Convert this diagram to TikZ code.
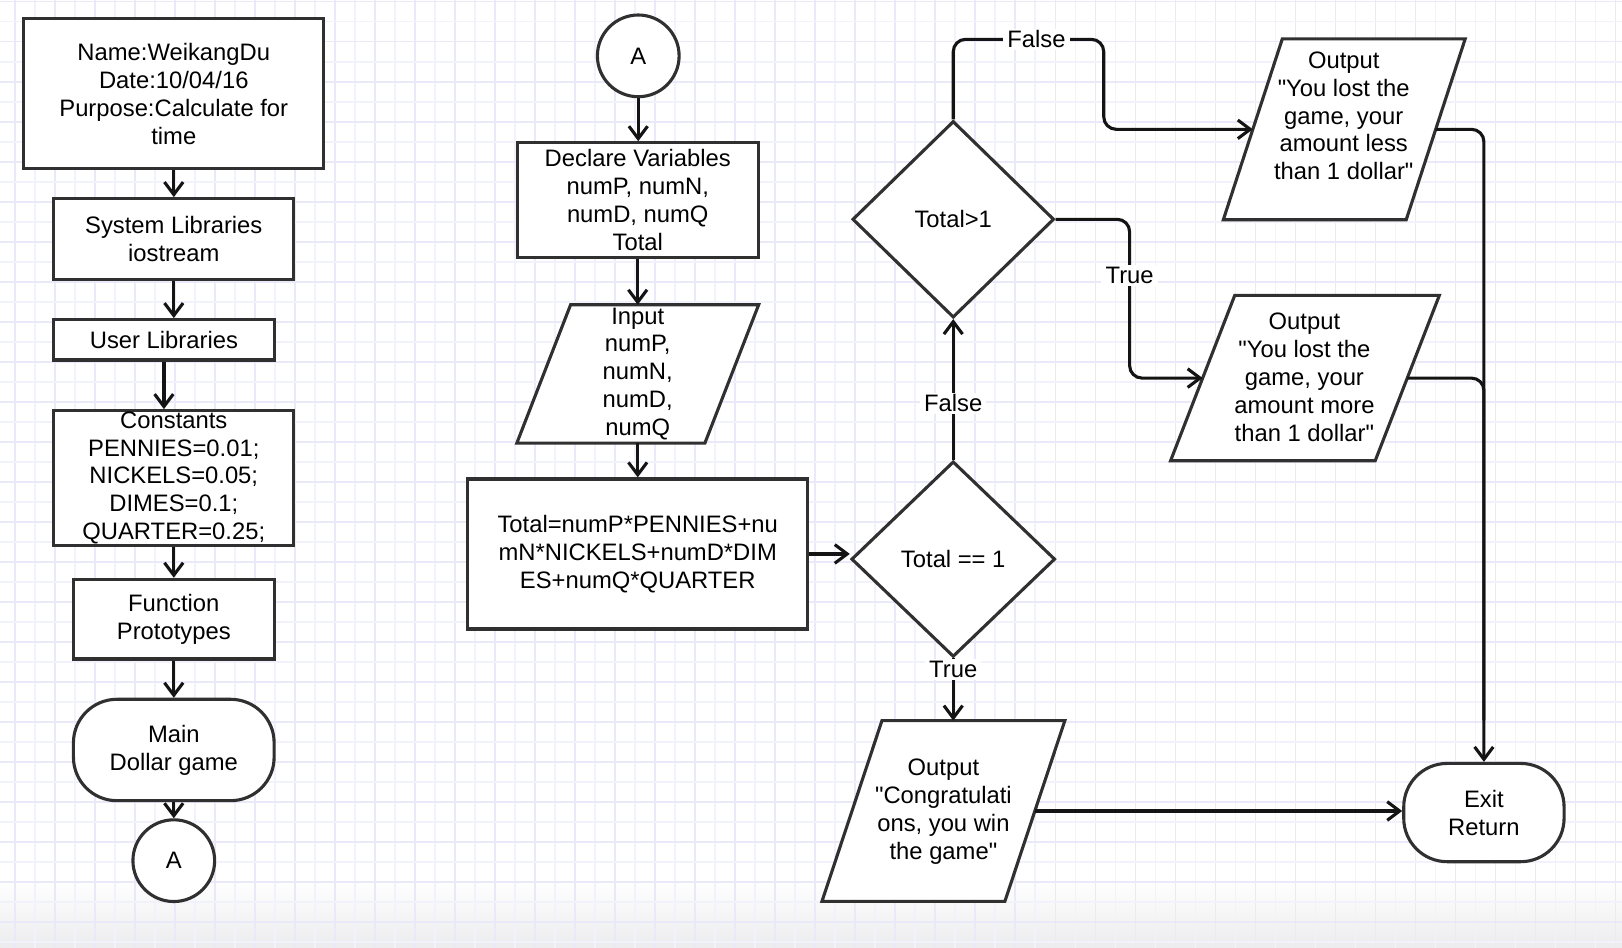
\documentclass[tikz,border=0pt]{standalone}
\usepackage{fontspec}
\setmainfont{Liberation Sans}[Ligatures=TeXOff]
\usetikzlibrary{shapes.geometric,arrows.meta,calc}
\definecolor{gridminor}{RGB}{242,242,252}
\definecolor{gridmajor}{RGB}{233,233,250}
\definecolor{shp}{RGB}{48,48,48}
\definecolor{conncol}{RGB}{20,20,20}
\newcommand\drawpara[2]{\path[draw=shp, fill=white, line width=1.5pt, line join=miter] ([xshift=#2]#1.north west) -- (#1.north east) -- ([xshift=-#2]#1.south east) -- (#1.south west) -- cycle;}
\tikzset{
  txt/.style={font=\fontsize{11.5}{13.5}\selectfont, align=center, inner sep=0pt, text=black},
  mtxt/.style={txt, execute at begin node={\rule{0pt}{12pt}}},
  box/.style={mtxt, rectangle, draw=shp, fill=white, line width=1.5pt},
  sbox/.style={txt, rectangle, draw=shp, fill=white, line width=1.5pt},
  term/.style={box, rounded corners=21pt},
  dec/.style={txt, diamond, draw=shp, fill=white, line width=1.5pt},
  conncirc/.style={txt, circle, draw=shp, fill=white, line width=1.5pt, minimum size=39.5pt},
  pshape/.style={rectangle, inner sep=0pt, draw=none},
  conn/.style={draw=conncol, line width=1.5pt, rounded corners=6pt, -{Straight Barb[length=6pt,width=9pt]}},
  plainline/.style={draw=conncol, line width=1.5pt, rounded corners=6pt},
  lbl/.style={txt, fill=white, inner xsep=2pt, inner ysep=1pt},
}
\begin{document}
\begin{tikzpicture}[x=0.5pt,y=-0.5pt]
\useasboundingbox (0,0) rectangle (1568,916);
\fill[white] (0,0) rectangle (1568,916);
\shade[top color=white, bottom color={rgb,255:red,236;green,236;blue,238}] (0,850) rectangle (1568,916);
% grid
\foreach \i in {0,...,80}{
  \pgfmathtruncatemacro\odd{mod(\i,2)}
  \ifnum\odd=0 \def\gc{gridmajor}\else\def\gc{gridminor}\fi
  \draw[\gc, line width=0.8pt] ({14.5+\i*19.34},0) -- ({14.5+\i*19.34},916);
}
\foreach \j in {0,...,47}{
  \pgfmathtruncatemacro\odd{mod(\j,2)}
  \ifnum\odd=0 \def\gc{gridmajor}\else\def\gc{gridminor}\fi
  \draw[\gc, line width=0.8pt] (0,{1.6+\j*19.34}) -- (1568,{1.6+\j*19.34});
}

% left column
\node[box, minimum width=145pt, minimum height=72.5pt] (name) at (168,90.5) {Name:WeikangDu\\Date:10/04/16\\Purpose:Calculate for\\time};
\node[box, minimum width=116pt, minimum height=39pt] (syslib) at (168,231) {System Libraries\\iostream};
\node[sbox, minimum width=106.5pt, minimum height=19.5pt] (userlib) at (158.5,328.5) {User Libraries};
\node[box, minimum width=116pt, minimum height=65pt] (const) at (168,462) {Constants\\PENNIES=0.01;\\NICKELS=0.05;\\DIMES=0.1;\\QUARTER=0.25;};
\node[box, minimum width=97pt, minimum height=38.5pt] (fp) at (168,598.5) {Function\\Prototypes};
\node[term, minimum width=97pt, minimum height=49pt] (main) at (168,725) {Main\\Dollar game};
\node[conncirc] (a1) at (168,832) {A};

% middle column
\node[conncirc] (a2) at (617,54) {A};
\node[box, minimum width=116.5pt, minimum height=55.5pt] (decl) at (616.5,193.5) {Declare Variables\\numP, numN,\\numD, numQ\\Total};
\node[pshape, minimum width=116.5pt, minimum height=66.5pt] (input) at (616.5,361.5) {};
\drawpara{input}{26pt}
\node[mtxt] (inputt) at (input.center) {Input\\numP,\\numN,\\numD,\\numQ};
\node[box, minimum width=164.5pt, minimum height=72.5pt] (calc) at (616.5,535.5) {Total=numP*PENNIES+nu\\mN*NICKELS+numD*DIM\\ES+numQ*QUARTER};

% decisions
\node[dec, minimum width=98.5pt, minimum height=94.5pt] (d1) at (921.5,540.5) {Total == 1};
\node[dec, minimum width=97.5pt, minimum height=95pt] (d2) at (921.5,212) {Total>1};

% outputs
\node[pshape, minimum width=117pt, minimum height=87pt] (congr) at (912,784) {};
\drawpara{congr}{29pt}
\node[mtxt] (congrt) at (912,784.5) {Output\\"Congratulati\\ons, you win\\the game"};

\node[pshape, minimum width=116.5pt, minimum height=87pt] (outless) at (1299.5,125) {};
\drawpara{outless}{28.5pt}
\node[mtxt] (outlesst) at (1299,112) {Output\\"You lost the\\game, your\\amount less\\than 1 dollar"};

\node[pshape, minimum width=129.5pt, minimum height=79.5pt] (outmore) at (1261.5,365.5) {};
\drawpara{outmore}{31pt}
\node[mtxt] (outmoret) at (1261,365) {Output\\"You lost the\\game, your\\amount more\\than 1 dollar"};

\node[term, minimum width=77.5pt, minimum height=47.5pt] (exit) at (1434.5,785.5) {Exit\\Return};

% edge points of parallelograms
\coordinate (outlessL) at ([xshift=14.25pt]outless.west);
\coordinate (outlessR) at ([xshift=-14.25pt]outless.east);
\coordinate (outmoreL) at ([xshift=15.5pt]outmore.west);
\coordinate (outmoreR) at ([xshift=-15.5pt]outmore.east);
\coordinate (congrR) at ([xshift=-14.5pt]congr.east);
\coordinate (calcR) at (calc.east);

% connectors left
\draw[conn] (name.south) -- (syslib.north);
\draw[conn] (syslib.south) -- (syslib.south |- userlib.north);
\draw[conn] (userlib.south) -- (userlib.south |- const.north);
\draw[conn] (const.south) -- (const.south |- fp.north);
\draw[conn] (fp.south) -- (main.north);
\draw[conn] (main.south) -- (a1.north);

% connectors middle
\draw[conn] (a2.south) -- (a2.south |- decl.north);
\draw[conn] (decl.south) -- (input.north);
\draw[conn] (input.south) -- (calc.north);
\draw[conn] (calcR) -- (calcR -| d1.west);

% decisions
\draw[conn] (d1.north) -- (d2.south);
\draw[conn] (d1.south) -- (d1.south |- congr.north);
\draw[conn] (d2.north) |- (1067,38) |- (outlessL);
\draw[conn] (d2.east) -| (1092,300) |- (outmoreL);

% to exit
\draw[conn] (outlessR) -| (exit.north);
\draw[plainline] (outmoreR) -| ([yshift=20pt]exit.north);
\draw[conn] (congrR) -- (congrR -| exit.west);

% labels
\node[lbl] (lf1) at (921.5,390) {False};
\node[lbl] (lt1) at (921.5,647) {True};
\node[lbl] (lt2) at (1092,266) {True};
\node[lbl] (lf2) at (1002,38) {False};
\end{tikzpicture}
\end{document}
